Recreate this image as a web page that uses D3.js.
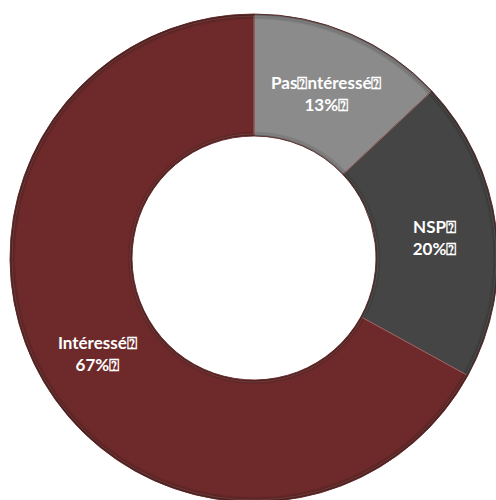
<!DOCTYPE html>
<html>
<head>
<meta charset="utf-8">
<script src="https://cdn.jsdelivr.net/npm/d3@7"></script>
<style>
  html, body { margin: 0; padding: 0; background: #ffffff; }
  svg { display: block; }
</style>
</head>
<body>
<svg id="chart" width="496" height="500"></svg>
<script>
// Survey answers, in clockwise order from 12 o'clock
const categories = ["Pas intéressé", "NSP", "Intéressé"];
const lineOne = ["Pas\u2370ntéressé\u2370", "NSP\u2370", "Intéressé\u2370"];
const percentLabels = ["13%\u2370", "20%\u2370", "67%\u2370"];
const shares = [13, 20, 67];
const sliceColors = ["#8b8b8b", "#454545", "#6e2a2a"];

const svg = d3.select("#chart");
const cx = 254, cy = 258;
const outerR = 244, innerR = 122;

const data = categories.map((c, i) => ({ name: c, value: shares[i], i }));

const pie = d3.pie().sort(null).value(d => d.value);
const arc = d3.arc().innerRadius(innerR).outerRadius(outerR);
const bevel = d3.arc().innerRadius(innerR + 2).outerRadius(outerR - 2);
const labelArc = d3.arc().innerRadius(118).outerRadius(246);

const defs = svg.append("defs");
// soft edge shading along both rims of the ring
const shade = defs.append("radialGradient")
  .attr("id", "ringShade")
  .attr("gradientUnits", "userSpaceOnUse")
  .attr("cx", 0).attr("cy", 0).attr("r", outerR);
shade.append("stop").attr("offset", innerR / outerR).attr("stop-color", "#000").attr("stop-opacity", 0.3);
shade.append("stop").attr("offset", (innerR + 5) / outerR).attr("stop-color", "#000").attr("stop-opacity", 0);
shade.append("stop").attr("offset", (outerR - 6) / outerR).attr("stop-color", "#000").attr("stop-opacity", 0);
shade.append("stop").attr("offset", 1).attr("stop-color", "#000").attr("stop-opacity", 0.35);

const g = svg.append("g").attr("transform", `translate(${cx},${cy})`);
const arcs = pie(data);

g.selectAll("path.slice")
  .data(arcs)
  .join("path")
  .attr("class", "slice")
  .attr("d", arc)
  .attr("fill", d => sliceColors[d.data.i])
  .attr("stroke", "#7a3a3a")
  .attr("stroke-width", 1);

g.selectAll("path.shade")
  .data(arcs)
  .join("path")
  .attr("class", "shade")
  .attr("d", arc)
  .attr("fill", "url(#ringShade)");

// thin light seams between slices
g.selectAll("path.bevel")
  .data(arcs)
  .join("path")
  .attr("class", "bevel")
  .attr("d", bevel)
  .attr("fill", "none")
  .attr("stroke", "#ffffff")
  .attr("stroke-opacity", 0.12)
  .attr("stroke-width", 1);

const labels = g.selectAll("g.label")
  .data(arcs)
  .join("g")
  .attr("class", "label")
  .attr("transform", d => {
    const [x, y] = labelArc.centroid(d);
    return `translate(${x},${y})`;
  });

const labelFont = "Lato, 'Open Sans', sans-serif";

labels.append("text")
  .attr("text-anchor", "middle")
  .attr("y", -2)
  .attr("font-family", labelFont)
  .attr("font-weight", "bold")
  .attr("font-size", 17)
  .attr("fill", "#ffffff")
  .text(d => lineOne[d.data.i]);

labels.append("text")
  .attr("text-anchor", "middle")
  .attr("y", 20)
  .attr("font-family", labelFont)
  .attr("font-weight", "bold")
  .attr("font-size", 17)
  .attr("fill", "#ffffff")
  .text(d => percentLabels[d.data.i]);
</script>
</body>
</html>
